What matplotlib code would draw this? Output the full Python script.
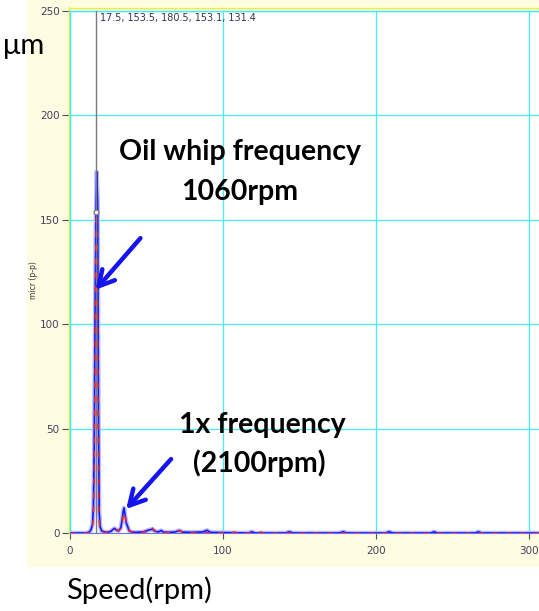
import matplotlib
matplotlib.use("Agg")
import matplotlib.pyplot as plt
from matplotlib.patches import Rectangle

# spectrum (speed, amplitude)
blue_x = [0, 11, 13, 14, 15, 15.6, 16.1, 16.6, 17.2, 17.8, 18.4, 18.9, 19.4, 20, 21, 23, 25, 27,
          28.5, 29.5, 30.5, 32, 33.5, 34.3, 35, 35.6, 36.2, 37, 38, 39, 40.5, 43, 48, 52, 54, 56,
          58, 59.8, 61.5, 65, 69, 71.7, 74, 80, 87, 89.8, 92, 100, 117, 119, 121, 141, 143.5, 146,
          176, 178.7, 181, 206, 208.7, 211, 236, 238, 240, 265, 267, 269, 320]
blue_y = [0, 0, 0.5, 1.5, 4, 12, 38, 95, 150, 173, 158, 60, 10, 3, 1, 0.5, 0.3, 0.8,
          1.8, 2.2, 1.5, 1, 2.5, 6, 10, 12, 9, 5, 3, 1, 0.5, 0.3, 0.5, 1.5, 1.8, 0.8,
          0.5, 1.2, 0.4, 0.3, 0.5, 1.2, 0.4, 0.3, 0.5, 1.3, 0.3, 0.2, 0, 0.6, 0, 0, 0.6, 0,
          0, 0.6, 0, 0, 0.6, 0, 0, 0.6, 0, 0, 0.6, 0, 0]

red_x = [0, 12, 14, 15, 15.7, 16.2, 16.7, 17.2, 17.6, 18.1, 18.7, 19.2, 19.8, 21, 24, 28, 29.5,
         31, 33.5, 34.4, 35.2, 35.9, 36.6, 37.5, 39, 42, 50, 52, 53.5, 55, 57, 69, 71.7, 74,
         105, 107.6, 110, 123, 125, 127, 146, 148.7, 151, 320]
red_y = [0, 0, 1, 3, 10, 35, 85, 140, 153, 140, 50, 8, 2, 0.5, 0.3, 1.5, 2,
         1, 2, 5, 9, 10, 7, 3, 1, 0.3, 0.5, 1.5, 3, 1.5, 0.3, 0.3, 1.2, 0.3,
         0, 0.5, 0, 0, 0.5, 0, 0, 0.5, 0, 0]

cursor_x = 17.5
cursor_y = 153.5
readout = "17.5, 153.5, 180.5, 153.1, 131.4"

y_ticks = [0, 50, 100, 150, 200, 250]
x_ticks = [0, 100, 200, 300]

W, H = 539, 611
fig = plt.figure(figsize=(W / 100, H / 100), dpi=100)
fig.patch.set_facecolor("white")

# pale yellow panel behind the plot
fig.patches.append(Rectangle((27 / W, 1 - 567 / H), 1 - 27 / W, 567 / H,
                             transform=fig.transFigure, facecolor="#fffde1",
                             edgecolor="none", zorder=-5))

ax = fig.add_axes([69.5 / W, 1 - 533 / H, 1 - 69.5 / W, 522 / H])
ax.set_zorder(1)
ax.set_facecolor("white")
ax.set_xlim(0, 306.5)
ax.set_ylim(0, 250)

ax.set_xticks(x_ticks)
ax.set_yticks(y_ticks)
ax.grid(True, color="#40eefa", lw=0.9)
ax.set_axisbelow(True)
ax.tick_params(axis="y", direction="out", length=6, width=0.8, color="#505050",
               labelsize=7.5, labelcolor="#404060", pad=1)
ax.tick_params(axis="x", direction="out", length=4.5, width=0.8, color="#505050",
               labelsize=7.5, labelcolor="#404060", pad=5)

for s in ["left", "top"]:
    ax.spines[s].set_color("#40eefa")
    ax.spines[s].set_linewidth(1.0)
ax.spines["right"].set_visible(False)
ax.spines["bottom"].set_color("#7070ff")

# yellow edge just outside the plot frame
ax.plot([-0.6, -0.6], [0, 252], color="#e8f040", lw=1, clip_on=False, zorder=1)
ax.plot([-0.6, 306.5], [251.2, 251.2], color="#e8f040", lw=1, clip_on=False, zorder=1)

ax.plot(blue_x, blue_y, color="#b8bcff", lw=3.2, zorder=2, solid_joinstyle="round")
ax.plot(blue_x, blue_y, color="#1818f0", lw=1.2, zorder=3)
ax.plot(red_x, red_y, color="#ee2222", lw=1.1, zorder=4, dashes=(4, 5))
ax.axvline(cursor_x, color="#7a7a7a", lw=1, zorder=5)
ax.plot([cursor_x], [cursor_y], "o", ms=3.5, mfc="white", mec="#707070", mew=0.8, zorder=6)

ax.text(19.6, 246.6, readout, fontsize=6.9, color="#303050", va="center", ha="left")

bold = dict(family="Lato", fontweight="bold", fontsize=20.5, color="black",
            ha="center", va="center", zorder=8)
ax.text(111.5, 182.5, "Oil whip frequency", **bold)
ax.text(110.9, 163.3, "1060rpm", **bold)
ax.text(125.9, 51.7, "1x frequency", **bold)
ax.text(123.9, 33.5, "(2100rpm)", **bold)

arrow = dict(arrowstyle="->, head_length=1.1, head_width=0.6", lw=3.2, color="#1414f0",
             shrinkA=0, shrinkB=0)
ax.annotate("", xy=(17, 116.5), xytext=(46.3, 141.2), arrowprops=arrow, zorder=7)
ax.annotate("", xy=(37, 11.5), xytext=(66.3, 35.4), arrowprops=arrow, zorder=7)

fig.text(34 / W, 1 - 280 / H, "micr (p-p)", rotation=90, fontsize=5.5,
         color="#303040", ha="center", va="center")
fig.text(24 / W, 1 - 46 / H, "μm", family="Lato", fontsize=21, ha="center", va="center")
fig.text(139 / W, 1 - 590 / H, "Speed(rpm)", family="Lato", fontsize=21,
         ha="center", va="center")

fig.savefig("out.png", dpi=100)
